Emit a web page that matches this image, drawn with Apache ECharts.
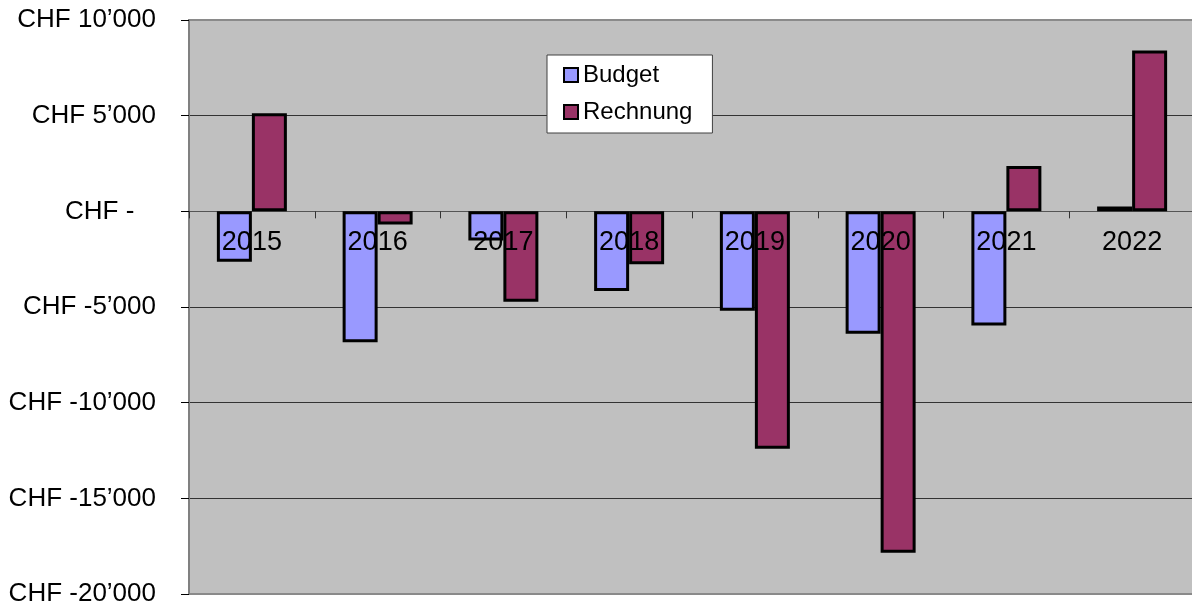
<!DOCTYPE html>
<html>
<head>
<meta charset="utf-8">
<script src="https://cdn.jsdelivr.net/npm/echarts@6/dist/echarts.min.js"></script>
<style>
  html, body { margin: 0; padding: 0; background: #fff; }
  #chart { width: 1192px; height: 608px; }
</style>
</head>
<body>
<div id="chart"></div>
<script>
// Jahre
const years = ['2015', '2016', '2017', '2018', '2019', '2020', '2021', '2022'];
// Ergebnis laut Budget (CHF)
const budget = [-2630, -6840, -1530, -4160, -5200, -6400, -5970, 250];
// Ergebnis laut Rechnung (CHF)
const rechnung = [5120, -690, -4720, -2770, -12410, -17840, 2370, 8400];
// Achse
const yMin = -20000;
const yMax = 10000;
const yStep = 5000;

const FONT = 'Liberation Sans, Arial, sans-serif';

// CHF Format mit Apostroph als Tausendertrennzeichen
const chf = (v) => {
    if (v === 0) return 'CHF -\u00a0\u00a0\u00a0';
    const s = Math.abs(v).toString().replace(/\B(?=(\d{3})+(?!\d))/g, '\u2019');
    return 'CHF ' + (v < 0 ? '-' : '') + s;
};

const chart = echarts.init(document.getElementById('chart'));

const option = {
    animation: false,
    textStyle: { fontFamily: FONT, color: '#000' },
    grid: {
        left: 189,
        top: 20,
        width: 1006,
        height: 574,
        outerBoundsMode: 'none',
        containLabel: false,
        show: true,
        backgroundColor: '#C0C0C0',
        borderColor: '#8a8a8a',
        borderWidth: 2
    },
    legend: {
        orient: 'vertical',
        left: 547,
        top: 55,
        padding: [8, 20, 9, 16],
        itemGap: 13,
        itemWidth: 14,
        itemHeight: 14,
        icon: 'rect',
        backgroundColor: '#fff',
        borderColor: '#404040',
        borderWidth: 1,
        itemStyle: { borderColor: '#000', borderWidth: 2 },
        textStyle: { fontFamily: FONT, fontSize: 24, color: '#000' },
        data: ['Budget', 'Rechnung']
    },
    xAxis: [
        {
            // Nulllinie mit Strichen
            type: 'category',
            data: years,
            axisLine: { onZero: true, lineStyle: { color: '#555', width: 1 } },
            axisTick: { show: true, length: 7, lineStyle: { color: '#333' } },
            axisLabel: { show: false },
            splitLine: { show: false }
        },
        {
            // Jahreszahlen direkt unter der Nulllinie
            type: 'category',
            data: years,
            position: 'bottom',
            offset: -365,
            z: 5,
            axisLine: { show: false, onZero: false },
            axisTick: { show: false },
            axisLabel: { fontFamily: FONT, fontSize: 27, color: '#000', margin: 0, verticalAlign: 'top' },
            splitLine: { show: false }
        }
    ],
    yAxis: {
        type: 'value',
        min: yMin,
        max: yMax,
        interval: yStep,
        axisLine: { show: true, lineStyle: { color: '#808080', width: 2 } },
        axisTick: { show: true, length: 8, lineStyle: { color: '#000' } },
        axisLabel: { fontFamily: FONT, fontSize: 26, color: '#000', margin: 33, formatter: chf },
        splitLine: { show: true, showMinLine: false, showMaxLine: false, lineStyle: { color: '#333', width: 1 } }
    },
    series: [
        {
            name: 'Budget',
            type: 'bar',
            data: budget,
            barWidth: 35,
            barGap: 0,
            itemStyle: { color: '#9999FF', borderColor: '#000', borderWidth: 3 }
        },
        {
            name: 'Rechnung',
            type: 'bar',
            data: rechnung,
            barWidth: 35,
            barGap: 0,
            itemStyle: { color: '#993366', borderColor: '#000', borderWidth: 3 }
        }
    ]
};

chart.setOption(option);
</script>
</body>
</html>
